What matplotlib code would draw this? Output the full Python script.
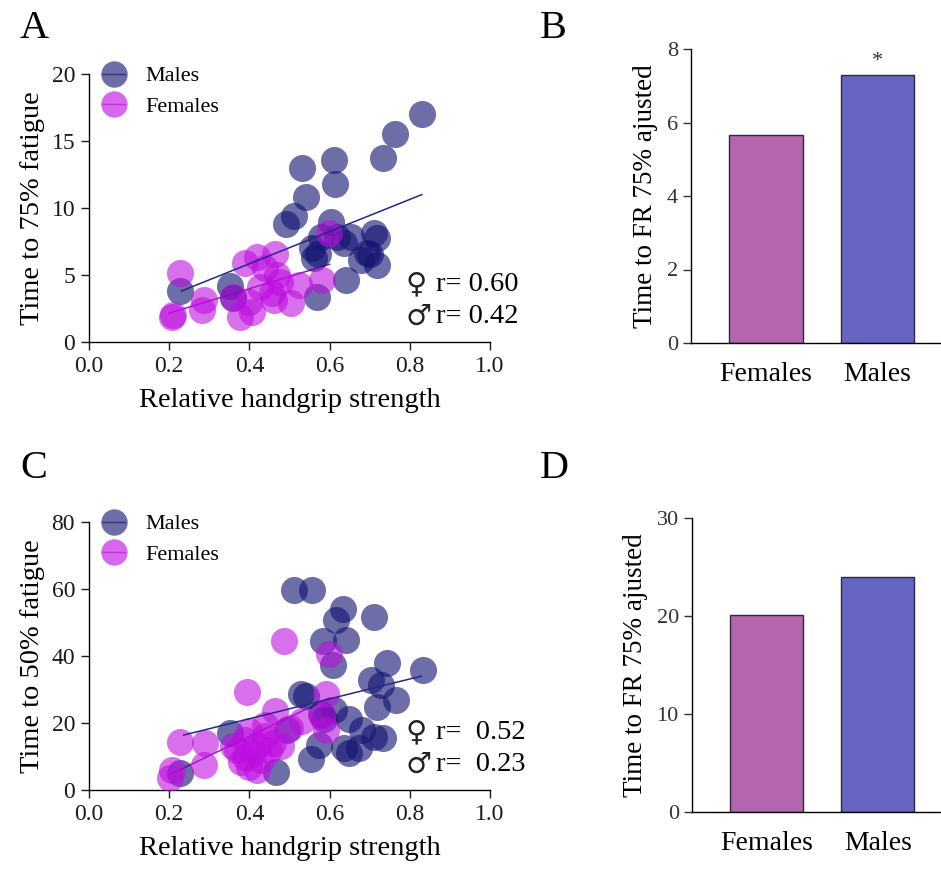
import numpy as np
import matplotlib
matplotlib.use("Agg")
import matplotlib.pyplot as plt
from matplotlib.lines import Line2D

plt.rcParams['font.family'] = ['Liberation Serif', 'DejaVu Sans']
plt.rcParams['axes.linewidth'] = 1.0

# ---------------- data ----------------
# Panel A: time to 75% fatigue vs relative handgrip strength
males_A_x = [0.83, 0.763, 0.732, 0.611, 0.53, 0.613, 0.54, 0.511, 0.4925, 0.6025,
             0.2275, 0.351, 0.36, 0.5675, 0.64, 0.5775, 0.557, 0.561, 0.6525, 0.636,
             0.711, 0.719, 0.694, 0.6775, 0.719, 0.70, 0.619, 0.57]
males_A_y = [17.0, 15.5, 13.7, 13.6, 12.96, 11.8, 10.85, 9.4, 8.78, 8.98,
             3.8, 4.18, 3.3, 3.38, 4.63, 7.86, 7.0, 6.25, 7.86, 7.36,
             8.1, 7.74, 6.62, 6.12, 5.75, 6.6, 7.86, 6.6]
females_A_x = [0.2275, 0.207, 0.21, 0.282, 0.2875, 0.39, 0.419, 0.465, 0.36, 0.3775,
               0.407, 0.398, 0.4275, 0.457, 0.461, 0.4775, 0.5025, 0.523, 0.582, 0.598,
               0.44, 0.47]
females_A_y = [5.15, 1.9, 2.0, 2.4, 3.1, 5.87, 6.37, 6.6, 3.38, 1.9,
               2.26, 3.0, 4.13, 3.63, 3.13, 4.5, 2.89, 4.25, 4.63, 8.1,
               5.5, 5.0]
male_fit_A_x = [0.23, 0.83]
male_fit_A_y = [3.8, 11.0]
female_fit_A_x = [0.20, 0.60]
female_fit_A_y = [2.15, 5.8]

# Panel C: time to 50% fatigue vs relative handgrip strength
males_C_x = [0.511, 0.557, 0.634, 0.615, 0.711, 0.584, 0.64, 0.609, 0.744, 0.832,
             0.7025, 0.7275, 0.765, 0.7175, 0.5275, 0.54, 0.5775, 0.611, 0.648, 0.682,
             0.711, 0.732, 0.636, 0.648, 0.673, 0.573, 0.554, 0.4675, 0.494, 0.3525,
             0.2275, 0.586]
males_C_y = [59.7, 59.7, 54.1, 50.6, 51.6, 44.6, 44.8, 37.2, 37.9, 35.9,
             32.9, 31.25, 26.8, 24.8, 28.8, 28.0, 22.8, 23.8, 21.3, 17.9,
             15.9, 15.4, 12.4, 10.9, 12.4, 13.4, 9.4, 5.46, 17.9, 16.9,
             4.96, 21.3]
females_C_x = [0.394, 0.486, 0.598, 0.592, 0.465, 0.2275, 0.29, 0.286, 0.207, 0.2025,
               0.37, 0.38, 0.39, 0.40, 0.41, 0.42, 0.43, 0.44, 0.45, 0.40,
               0.39, 0.46, 0.48, 0.50, 0.53, 0.42, 0.58, 0.59, 0.44, 0.36]
females_C_y = [29.3, 44.6, 40.7, 28.8, 23.5, 14.4, 13.9, 7.4, 5.95, 3.5,
               12.0, 8.5, 15.0, 7.0, 11.0, 13.5, 9.0, 16.0, 12.0, 17.5,
               10.0, 14.0, 13.0, 18.5, 20.5, 6.0, 22.0, 18.0, 19.5, 13.0]
male_fit_C_x = [0.236, 0.829]
male_fit_C_y = [16.4, 34.0]
female_fit_C_x = [0.20, 0.60]
female_fit_C_y = [4.5, 27.5]

# Panels B and D: adjusted times
bar_groups = ["Females", "Males"]
bars_B = [5.67, 7.28]
bars_D = [20.06, 23.98]

r_symbols = ["\u2640", "\u2642"]
r_text_A = ["r= 0.60", "r= 0.42"]
r_text_C = ["r=  0.52", "r=  0.23"]

# ---------------- style ----------------
male_col = (0.08, 0.08, 0.45)
female_col = (0.74, 0.05, 0.88)
alpha = 0.62
bar_cols = ["#b366ae", "#6666c2"]
W, H = 941, 875

fig = plt.figure(figsize=(W / 100, H / 100), dpi=100)


def fr(l, t, r, b):
    return [l / W, 1 - b / H, (r - l) / W, (b - t) / H]


def scatter_panel(ax, mx, my, fx, fy, mfx, mfy, ffx, ffy, ylim, yticks, ylabel, rtxt):
    ax.scatter(mx, my, s=380, color=male_col, alpha=alpha, linewidths=0, zorder=3)
    ax.scatter(fx, fy, s=380, color=female_col, alpha=alpha * 0.95, linewidths=0, zorder=3)
    ax.plot(mfx, mfy, color=(0.15, 0.15, 0.55), lw=1.1, zorder=4)
    ax.plot(ffx, ffy, color=(0.6, 0.1, 0.75), lw=1.1, zorder=2)
    ax.set_xlim(0, 1.0)
    ax.set_ylim(*ylim)
    ax.set_xticks([0.0, 0.2, 0.4, 0.6, 0.8, 1.0])
    ax.set_xticklabels(["0.0", "0.2", "0.4", "0.6", "0.8", "1.0"])
    ax.set_yticks(yticks)
    ax.spines[['top', 'right']].set_visible(False)
    ax.spines['bottom'].set_bounds(0, 1.0)
    ax.tick_params(direction='out', length=6, width=1.0, labelsize=17, colors='#1a1a1a', pad=4)
    ax.set_xlabel("Relative handgrip strength", fontsize=20.5, labelpad=8)
    ax.set_ylabel(ylabel, fontsize=20.5, labelpad=5)
    handles = [Line2D([], [], color=male_col, marker='o', markersize=19, alpha=alpha,
                      markeredgewidth=0, lw=1.0),
               Line2D([], [], color=female_col, marker='o', markersize=19, alpha=alpha,
                      markeredgewidth=0, lw=1.0)]
    ax.legend(handles, ["Males", "Females"], loc='upper left', bbox_to_anchor=(-0.012, 1.097),
              frameon=False, fontsize=16, handlelength=1.05, handletextpad=0.9,
              labelspacing=0.45, borderpad=0.3)
    for i, (sym, t) in enumerate(zip(r_symbols, rtxt)):
        yy = 0.215 - i * 0.12
        ax.text(0.79, yy, sym, transform=ax.transAxes, fontsize=21, va='center', ha='left',
                family=['DejaVu Serif', 'DejaVu Sans'], color='#222222')
        ax.text(0.865, yy, t, transform=ax.transAxes, fontsize=20.5, va='center', ha='left')


def bar_panel(ax, vals, ylim, yticks, star=False):
    ax.bar([0, 1], vals, width=0.66, color=bar_cols, edgecolor='#2a2a3a', linewidth=1.0, zorder=2)
    ax.set_xlim(-0.67, 1.56)
    ax.set_ylim(*ylim)
    ax.set_yticks(yticks)
    ax.set_xticks([0, 1])
    ax.set_xticklabels(bar_groups, fontsize=20)
    ax.spines[['top', 'right']].set_visible(False)
    ax.tick_params(axis='y', direction='out', length=6, width=1.0, labelsize=16, colors='#333333')
    ax.tick_params(axis='x', length=0, pad=14, labelsize=20)
    ax.set_ylabel("Time to FR 75% ajusted", fontsize=19.5, labelpad=6)
    if star:
        ax.text(1, vals[1] + 0.12, "*", ha='center', va='bottom', fontsize=16, color='#333333')


axA = fig.add_axes(fr(89, 74, 490, 342))
scatter_panel(axA, males_A_x, males_A_y, females_A_x, females_A_y,
              male_fit_A_x, male_fit_A_y, female_fit_A_x, female_fit_A_y,
              (0, 20), [0, 5, 10, 15, 20], "Time to 75% fatigue", r_text_A)

axC = fig.add_axes(fr(89, 522, 490, 790))
scatter_panel(axC, males_C_x, males_C_y, females_C_x, females_C_y,
              male_fit_C_x, male_fit_C_y, female_fit_C_x, female_fit_C_y,
              (0, 80), [0, 20, 40, 60, 80], "Time to 50% fatigue", r_text_C)

axB = fig.add_axes(fr(691, 49, 940, 343))
bar_panel(axB, bars_B, (0, 8), [0, 2, 4, 6, 8], star=True)

axD = fig.add_axes(fr(692, 518, 940, 812))
bar_panel(axD, bars_D, (0, 30), [0, 10, 20, 30])

for lab, x, y in [("A", 20, 38), ("B", 540, 38), ("C", 20, 478), ("D", 540, 478)]:
    fig.text(x / W, 1 - y / H, lab, fontsize=29, ha='left', va='baseline')

fig.savefig("out.png", dpi=100)
